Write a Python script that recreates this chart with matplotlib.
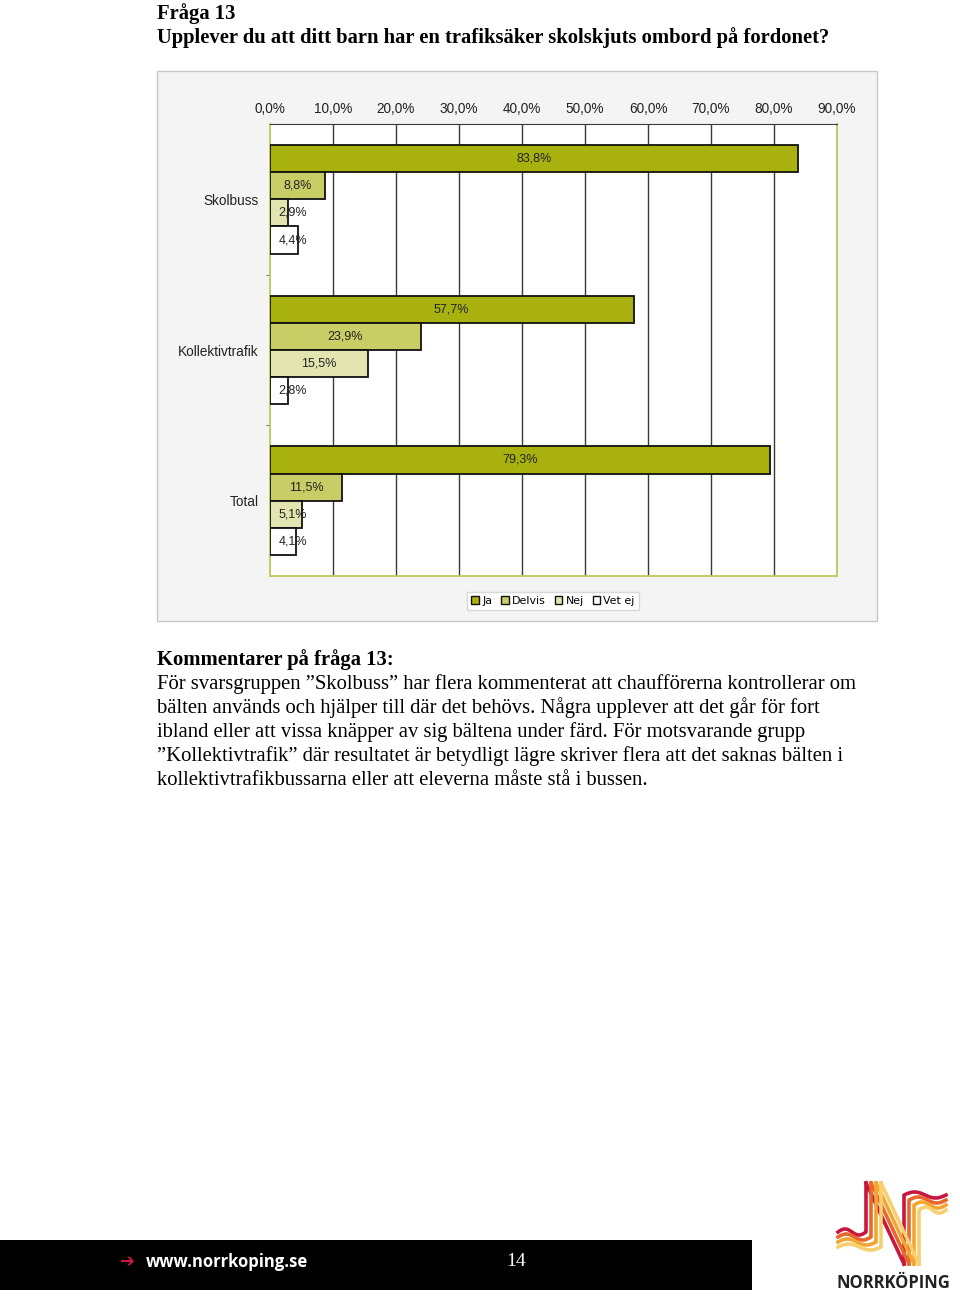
import numpy as np
import matplotlib
matplotlib.use("Agg")
import matplotlib.pyplot as plt
from matplotlib.patches import Rectangle, Patch
from matplotlib.lines import Line2D

# data
groups = ['Skolbuss', 'Kollektivtrafik', 'Total']
series = ['Ja', 'Delvis', 'Nej', 'Vet ej']
ja = [83.8, 57.7, 79.3]
delvis = [8.8, 23.9, 11.5]
nej = [2.9, 15.5, 5.1]
vet_ej = [4.4, 2.8, 4.1]
xticks = [0, 10, 20, 30, 40, 50, 60, 70, 80, 90]

colors = ['#a9b10f', '#c9cd66', '#e3e5b1', '#ffffff']

W, H = 960, 1296
fig = plt.figure(figsize=(W / 100, H / 100), dpi=100)


def fx(x):
    return x / W


def fy(y):
    return 1 - y / H


serif = 'Liberation Serif'
sans = 'Liberation Sans'
fs = 14.9

# heading
fig.text(fx(157), fy(19), 'Fråga 13', family=serif, weight='bold', fontsize=fs, va='baseline')
fig.text(fx(157), fy(43), 'Upplever du att ditt barn har en trafiksäker skolskjuts ombord på fordonet?',
         family=serif, weight='bold', fontsize=fs, va='baseline')

# chart frame
fig.patches.append(Rectangle((fx(157), fy(621)), fx(720), 550 / H, transform=fig.transFigure,
                             facecolor='#f4f4f4', edgecolor='#c8c8c8', lw=1, zorder=0))

ax = fig.add_axes([fx(270), fy(576), 567 / W, 452 / H])
ax.set_facecolor('white')
ax.set_zorder(2)

h = 0.18
offs = [-0.27, -0.09, 0.09, 0.27]
pos = np.arange(len(groups))
for vals, c, o in zip([ja, delvis, nej, vet_ej], colors, offs):
    bars = ax.barh(pos + o, vals, height=h, color=c, edgecolor='#111111', lw=1.3, zorder=3)
    for b, v in zip(bars, vals):
        ax.text(max(v / 2, 3.65), b.get_y() + h / 2, f'{v:.1f}%'.replace('.', ','), ha='center',
                va='center', fontsize=9, family=sans, color='#222222', zorder=4)

ax.set_xlim(0, 90)
ax.set_ylim(2.5, -0.5)
for t in xticks[1:]:
    ax.axvline(t, color='#3a3a3a', lw=1, zorder=1)

ax.xaxis.tick_top()
ax.set_xticks(xticks)
ax.set_xticklabels([f'{t:.1f}%'.replace('.', ',') for t in xticks], family=sans, fontsize=9.8, color='#222222')
ax.tick_params(axis='x', length=0, pad=5.5)
ax.set_yticks(pos)
ax.set_yticklabels(groups, family=sans, fontsize=9.8, color='#222222')
ax.tick_params(axis='y', length=0, pad=8)
ax.set_yticks([0.5, 1.5], minor=True)
ax.tick_params(axis='y', which='minor', length=3, color='#555555')
for s in ['left', 'bottom', 'right']:
    ax.spines[s].set_color('#c2c65a')
    ax.spines[s].set_linewidth(1.3)
ax.spines['top'].set_color('#3a3a3a')

handles = [Patch(facecolor=c, edgecolor='#111111', lw=1) for c in colors]
fig.legend(handles, series, loc='center', bbox_to_anchor=(fx(553), fy(601)), ncol=4,
           handlelength=0.7, handleheight=0.7, handletextpad=0.3,
           columnspacing=0.8, borderpad=0.35, fancybox=False, edgecolor='#d8d8d8',
           framealpha=1, prop={'size': 7.9})

# comment text
lines = [
    'För svarsgruppen ”Skolbuss” har flera kommenterat att chaufförerna kontrollerar om',
    'bälten används och hjälper till där det behövs. Några upplever att det går för fort',
    'ibland eller att vissa knäpper av sig bältena under färd. För motsvarande grupp',
    '”Kollektivtrafik” där resultatet är betydligt lägre skriver flera att det saknas bälten i',
    'kollektivtrafikbussarna eller att eleverna måste stå i bussen.',
]
fig.text(fx(157), fy(665), 'Kommentarer på fråga 13:', family=serif, weight='bold', fontsize=fs, va='baseline')
for i, ln in enumerate(lines):
    fig.text(fx(157), fy(689 + 24 * i), ln, family=serif, fontsize=fs, va='baseline')

# footer
fig.patches.append(Rectangle((0, fy(1290)), fx(752), 50 / H, transform=fig.transFigure,
                             facecolor='black', edgecolor='none'))
fig.text(fx(120), fy(1262), '➔', family='DejaVu Sans', weight='bold', fontsize=13,
         color='#c8173f', va='center')
fig.text(fx(146), fy(1262), 'www.norrkoping.se', family='Open Sans', weight='bold', fontsize=12,
         color='white', va='center')
fig.text(fx(516), fy(1262), '14', family=serif, fontsize=14, color='white', va='center', ha='center')

# logo
logo_cols = ['#c8173f', '#e8672a', '#f2a531', '#f7cf6e']
for k, c in enumerate(logo_cols):
    d = k * 5
    t = np.linspace(0, 1, 40)
    # left leg with wave at bottom
    xs = [866 + d, 866 + d]
    ys = [1183, 1232 + d]
    wx = 866 + d - t * (28 + d)
    wy = 1232 + d + 3 * np.sin(t * 2 * np.pi)
    fig.lines.append(Line2D([fx(v) for v in xs + list(wx)], [fy(v) for v in ys + list(wy)],
                            transform=fig.transFigure, color=c, lw=2.6))
    # diagonal
    fig.lines.append(Line2D([fx(866 + d), fx(904 + d)], [fy(1183), fy(1264)],
                            transform=fig.transFigure, color=c, lw=2.6))
    # right leg with wave at top
    rx = 904 + d + t * (42 - d)
    ry = 1195 + d + 3 * np.sin(t * 2 * np.pi + np.pi)
    fig.lines.append(Line2D([fx(904 + d), fx(904 + d)] + [fx(v) for v in rx],
                            [fy(1264), fy(1195 + d)] + [fy(v) for v in ry],
                            transform=fig.transFigure, color=c, lw=2.6))
fig.text(fx(893), fy(1283), 'NORRKÖPING', family='Open Sans', weight='bold', fontsize=12,
         color='#222222', ha='center', va='center')

fig.savefig('out.png', dpi=100, facecolor='white')
